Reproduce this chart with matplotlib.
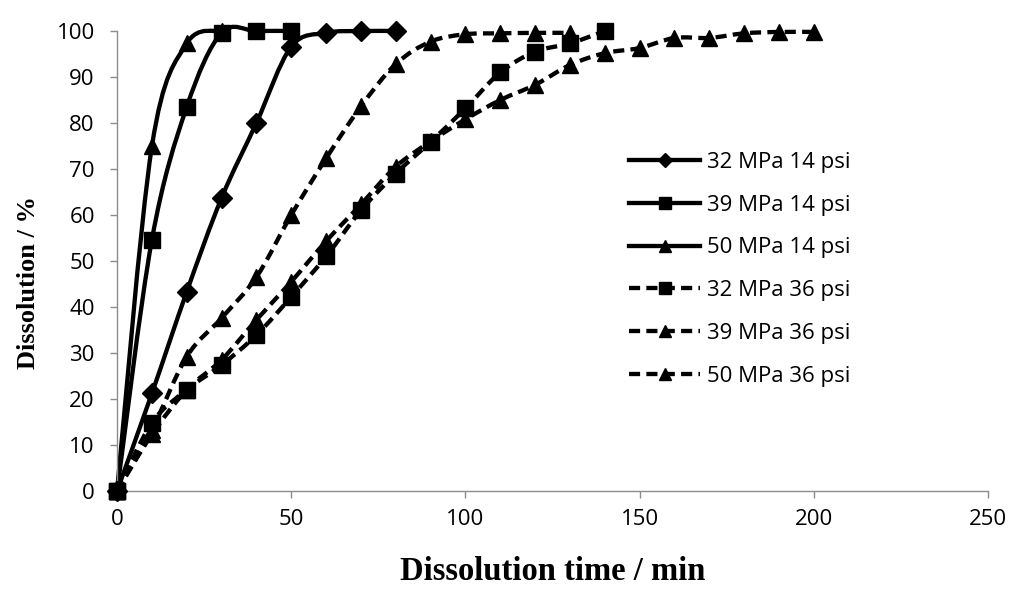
"""Dissolution curves at different pressures, drawn with smoothed lines like the original figure."""
import matplotlib
matplotlib.use("Agg")
import matplotlib.pyplot as plt
from matplotlib.path import Path
from matplotlib.patches import PathPatch
from matplotlib.lines import Line2D

# ---- data ----
t_32_14 = [0, 10, 20, 30, 40, 50, 60, 70, 80]
d_32_14 = [0, 21.2, 43.3, 63.7, 80.0, 96.6, 99.6, 100, 100]

t_39_14 = [0, 10, 20, 30, 40, 50]
d_39_14 = [0, 54.6, 83.5, 99.6, 100, 100]

t_50_14 = [0, 10, 20, 30]
d_50_14 = [0, 74.9, 97.3, 100]

t_32_36 = [0, 10, 20, 30, 40, 50, 60, 70, 80, 90, 100, 110, 120, 130, 140]
d_32_36 = [0, 14.8, 22.0, 27.4, 33.9, 42.2, 51.0, 61.0, 69.0, 75.9, 83.2, 91.0, 95.5, 97.3, 100]

t_39_36 = [0, 10, 20, 30, 40, 50, 60, 70, 80, 90, 100, 110, 120, 130]
d_39_36 = [0, 13.3, 29.2, 37.6, 46.5, 60.0, 72.3, 83.6, 92.8, 97.7, 99.3, 99.5, 99.6, 99.6]

t_50_36 = [0, 10, 20, 30, 40, 50, 60, 70, 80, 90, 100, 110, 120, 130, 140,
           150, 160, 170, 180, 190, 200]
d_50_36 = [0, 12.3, 22.0, 28.5, 37.2, 45.5, 54.3, 62.3, 70.5, 76.0, 80.8, 85.0, 88.3, 92.6, 95.2,
           96.3, 98.5, 98.5, 99.5, 99.8, 99.8]

labels = ["32 MPa 14 psi", "39 MPa 14 psi", "50 MPa 14 psi",
          "32 MPa 36 psi", "39 MPa 36 psi", "50 MPa 36 psi"]

series = [
    (t_32_14, d_32_14, "solid", "D"),
    (t_39_14, d_39_14, "solid", "s"),
    (t_50_14, d_50_14, "solid", "^"),
    (t_32_36, d_32_36, "dashed", "s"),
    (t_39_36, d_39_36, "dashed", "^"),
    (t_50_36, d_50_36, "dashed", "^"),
]

DASH = (0, (8, 4.5))
LW = 3.1
MSIZE = {"D": 10, "s": 12, "^": 12}


def smooth_path(x, y):
    # Catmull-Rom style bezier through the points (what Excel's "smoothed line" does)
    verts = [(x[0], y[0])]
    codes = [Path.MOVETO]
    n = len(x)
    for i in range(n - 1):
        x0, y0 = (x[i - 1], y[i - 1]) if i > 0 else (x[i], y[i])
        x3, y3 = (x[i + 2], y[i + 2]) if i + 2 < n else (x[i + 1], y[i + 1])
        c1 = (x[i] + (x[i + 1] - x0) / 6, y[i] + (y[i + 1] - y0) / 6)
        c2 = (x[i + 1] - (x3 - x[i]) / 6, y[i + 1] - (y3 - y[i]) / 6)
        verts += [c1, c2, (x[i + 1], y[i + 1])]
        codes += [Path.CURVE4] * 3
    return Path(verts, codes)


plt.rcParams["lines.scale_dashes"] = False

fig = plt.figure(figsize=(10.24, 5.91), dpi=100)
ax = fig.add_axes([0.1143, 0.1692, 0.8505, 0.7783])

for x, y, ls, mk in series:
    patch = PathPatch(smooth_path(x, y), facecolor="none", edgecolor="black",
                      linewidth=LW, linestyle=DASH if ls == "dashed" else "solid",
                      capstyle="butt", joinstyle="round", clip_on=False, zorder=2)
    ax.add_patch(patch)
    ax.plot(x, y, linestyle="none", marker=mk, markersize=MSIZE[mk],
            color="black", clip_on=False, zorder=3)

ax.set_xlim(0, 250)
ax.set_ylim(0, 100)
ax.set_xticks(range(0, 251, 50))
ax.set_yticks(range(0, 101, 10))

for side in ("top", "right"):
    ax.spines[side].set_visible(False)
for side in ("left", "bottom"):
    ax.spines[side].set_color("#8c8c8c")
    ax.spines[side].set_linewidth(1.0)

ax.tick_params(axis="both", direction="out", length=5, width=1.0, color="#8c8c8c",
               labelsize=16, labelcolor="black")
ax.tick_params(axis="y", pad=11)
ax.tick_params(axis="x", pad=8)
for lab in ax.get_xticklabels() + ax.get_yticklabels():
    lab.set_family("Open Sans")

ax.set_xlabel("Dissolution time / min", family="Liberation Serif", fontweight="bold",
              fontsize=23.5)
ax.set_ylabel("Dissolution / %", family="Liberation Serif", fontweight="bold",
              fontsize=19)
ax.xaxis.set_label_coords(0.5, -0.141)
ax.yaxis.set_label_coords(-0.088, 0.454)

handles = []
for x, y, ls, mk in series:
    handles.append(Line2D([], [], color="black", linewidth=LW,
                          linestyle=DASH if ls == "dashed" else "solid",
                          marker=mk, markersize=MSIZE[mk] * 0.75))
leg = ax.legend(handles, labels, loc="upper left", bbox_to_anchor=(0.595, 0.777),
                bbox_transform=fig.transFigure, frameon=False,
                prop={"family": "Open Sans", "size": 16},
                handlelength=3.2, handletextpad=0.3, labelspacing=0.98)

fig.savefig("out.png", dpi=100)
